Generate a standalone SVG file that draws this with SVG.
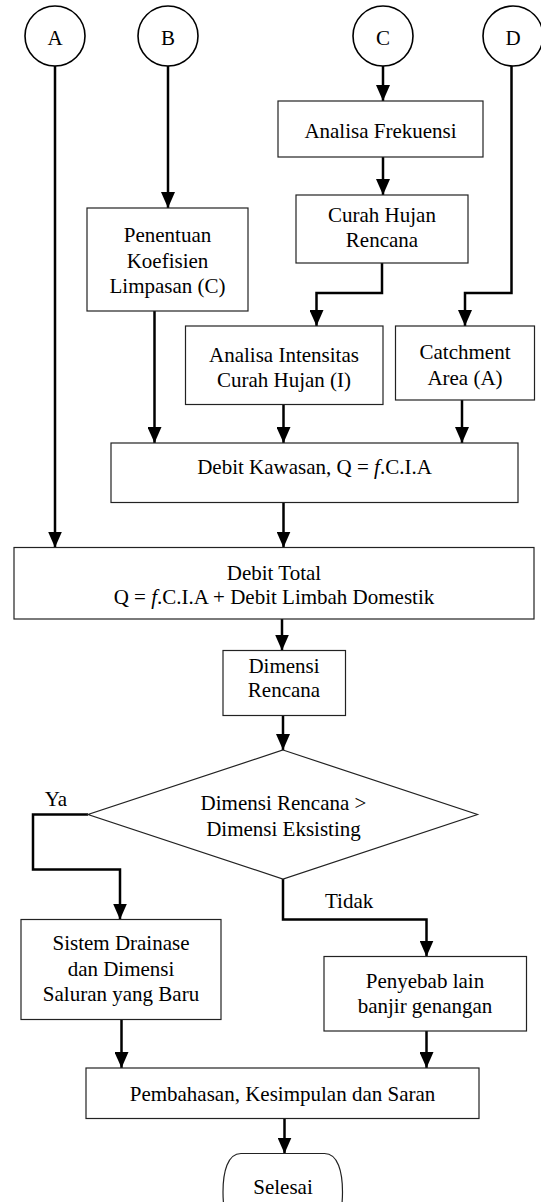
<svg xmlns="http://www.w3.org/2000/svg" width="541" height="1202" viewBox="0 0 541 1202">
<style>
.box{fill:#fff;stroke:#222;stroke-width:1.2}
.circ{fill:#fff;stroke:#000;stroke-width:1.6}
.t{font-family:"Liberation Serif","Times New Roman",serif;font-size:21px;fill:#000;text-anchor:middle}
.l{font-family:"Liberation Serif","Times New Roman",serif;font-size:21px;fill:#000}
.c{fill:none;stroke:#000;stroke-width:2.5;marker-end:url(#arr)}
</style>
<defs>
<marker id="arr" markerUnits="userSpaceOnUse" markerWidth="16" markerHeight="14" refX="16" refY="7" orient="auto" viewBox="0 0 16 14">
<path d="M0,0 L16,7 L0,14 z" fill="#000"/>
</marker>
</defs>
<g id="connectors">
<path class="c" d="M55,66 V547.5"/>
<path class="c" d="M168,66 V208"/>
<path class="c" d="M383,66 V101"/>
<path class="c" d="M383,157 V195"/>
<path class="c" d="M382,263 V293 H316.5 V326"/>
<path class="c" d="M511.5,66 V293 H465 V326"/>
<path class="c" d="M154.5,311 V443"/>
<path class="c" d="M283.5,404.5 V443"/>
<path class="c" d="M462,400 V443"/>
<path class="c" d="M283.5,502.5 V547.5"/>
<path class="c" d="M282,619 V650.5"/>
<path class="c" d="M283,715.5 V750"/>
<path class="c" d="M88,814.5 H33 V869.5 H120 V919.5"/>
<path class="c" d="M283,879 V919.5 H426.5 V956.5"/>
<path class="c" d="M121.5,1019.5 V1068"/>
<path class="c" d="M426.5,1031 V1068"/>
<path class="c" d="M284.5,1118.5 V1153.5"/>
</g>
<g id="circleA"><circle class="circ" cx="55" cy="36" r="30"/><text class="t" x="55" y="45">A</text></g>
<g id="circleB"><circle class="circ" cx="168" cy="36" r="30"/><text class="t" x="168" y="45">B</text></g>
<g id="circleC"><circle class="circ" cx="383" cy="36" r="30"/><text class="t" x="383" y="45">C</text></g>
<g id="circleD"><circle class="circ" cx="513" cy="36" r="30"/><text class="t" x="513" y="45">D</text></g>
<g id="frekuensi"><rect class="box" x="278" y="101" width="205" height="56"/><text class="t" x="380.5" y="138">Analisa Frekuensi</text></g>
<g id="curah"><rect class="box" x="296" y="195" width="172" height="68"/><text class="t" x="382" y="222">Curah Hujan</text><text class="t" x="382" y="246.5">Rencana</text></g>
<g id="penentuan"><rect class="box" x="87" y="208" width="161" height="103"/><text class="t" x="167.5" y="242">Penentuan</text><text class="t" x="167.5" y="267.5">Koefisien</text><text class="t" x="167.5" y="293">Limpasan (C)</text></g>
<g id="intensitas"><rect class="box" x="185.5" y="326" width="197.5" height="78.5"/><text class="t" x="284" y="361.5">Analisa Intensitas</text><text class="t" x="284" y="386.5">Curah Hujan (I)</text></g>
<g id="catchment"><rect class="box" x="395.5" y="326" width="139" height="74"/><text class="t" x="465" y="359">Catchment</text><text class="t" x="465" y="385">Area (A)</text></g>
<g id="kawasan"><rect class="box" x="111" y="443" width="407" height="59.5"/><text class="t" x="314.5" y="474">Debit Kawasan, Q = <tspan font-style="italic">f</tspan>.C.I.A</text></g>
<g id="total"><rect class="box" x="14" y="547.5" width="520" height="71.5"/><text class="t" x="274" y="579.5">Debit Total</text><text class="t" x="274" y="603.5">Q = <tspan font-style="italic">f</tspan>.C.I.A + Debit Limbah Domestik</text></g>
<g id="dimensi"><rect class="box" x="223" y="650.5" width="122.5" height="65"/><text class="t" x="284" y="672.5">Dimensi</text><text class="t" x="284" y="697">Rencana</text></g>
<g id="decision"><polygon class="box" points="283,750 477.5,814.5 283,879 88,814.5"/><text class="t" x="283.5" y="809.5">Dimensi Rencana &gt;</text><text class="t" x="283.5" y="836">Dimensi Eksisting</text></g>
<g id="labelYa"><text class="t" x="56" y="806">Ya</text></g>
<g id="labelTidak"><text class="l" x="325" y="908">Tidak</text></g>
<g id="sistem"><rect class="box" x="21" y="919.5" width="200" height="100"/><text class="t" x="121" y="950">Sistem Drainase</text><text class="t" x="121" y="975.5">dan Dimensi</text><text class="t" x="121" y="1000.5">Saluran yang Baru</text></g>
<g id="penyebab"><rect class="box" x="324" y="956.5" width="202.5" height="74.5"/><text class="t" x="425" y="987.5">Penyebab lain</text><text class="t" x="425" y="1013">banjir genangan</text></g>
<g id="pembahasan"><rect class="box" x="86" y="1068" width="393" height="50.5"/><text class="t" x="282.5" y="1100.5">Pembahasan, Kesimpulan dan Saran</text></g>
<g id="selesai"><path class="box" d="M241,1153.5 H324.5 C338,1153.5 342.5,1172 342.5,1192 C342.5,1212 338,1232 324.5,1232 H241 C227.5,1232 223,1212 223,1192 C223,1172 227.5,1153.5 241,1153.5 Z"/><text class="t" x="283" y="1194">Selesai</text></g>
</svg>
